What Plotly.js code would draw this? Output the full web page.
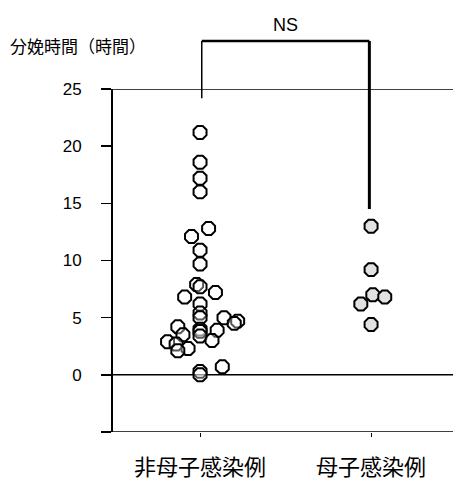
<!DOCTYPE html>
<html>
<head>
<meta charset="utf-8">
<script src="https://cdn.plot.ly/plotly-3.0.1.min.js"></script>
<style>html,body{margin:0;padding:0;background:#fff;}#chart{width:453px;height:482px;}</style>
</head>
<body>
<div id="chart"></div>
<script>
const categories = ["非母子感染例", "母子感染例"];
const yTitle = "分娩時間（時間）";
const sigLabel = "NS";

// group 1: 非母子感染例 (hours) and horizontal jitter
const group1Values = [21.2, 18.6, 17.2, 16.0, 12.8, 12.1, 10.9, 9.7, 7.9, 7.7, 7.2, 6.8, 6.2, 5.4, 5.0, 5.0, 4.7, 4.5, 4.2, 4.0, 3.8, 3.9, 3.5, 3.4, 3.0, 2.9, 2.7, 2.3, 2.1, 0.3, 0.0, 0.7];
const group1Jitter = [0, 0, 0, 0, 0.05, -0.05, 0, 0, -0.02, 0, 0.09, -0.09, 0, 0, 0, 0.14, 0.22, 0.2, -0.13, 0, 0, 0.1, -0.1, 0, 0.07, -0.19, -0.14, -0.07, -0.13, 0, 0, 0.13];

// group 2: 母子感染例
const group2Values = [13.0, 9.2, 7.0, 6.8, 6.2, 4.4];
const group2Jitter = [0, 0, 0.01, 0.08, -0.06, 0];

const yTickVals = [-5, 0, 5, 10, 15, 20, 25];
const yTickText = ["", "0", "5", "10", "15", "20", "25"];
const refLines = [-5, 0, 25];

// bracket levels (in hours)
const bracketTop = 29.2, bracketLeftEnd = 24.2, bracketRightEnd = 14.5;

const yMin = -5, yMax = 25;
const toPaper = v => (v - yMin) / (yMax - yMin);

const traces = [
  {
    type: "scatter", mode: "markers",
    x: group1Values.map((v, i) => 0 + group1Jitter[i]),
    y: group1Values,
    marker: {symbol: "octagon", size: 14, color: "rgba(255,255,255,0.35)", line: {color: "#000", width: 2}},
    cliponaxis: false, hoverinfo: "y"
  },
  {
    type: "scatter", mode: "markers",
    x: group2Values.map((v, i) => 1 + group2Jitter[i]),
    y: group2Values,
    marker: {symbol: "octagon", size: 14, color: "#e2e2e2", line: {color: "#000", width: 2}},
    cliponaxis: false, hoverinfo: "y"
  }
];

const shapes = [];
refLines.forEach(v => shapes.push({type: "line", xref: "paper", yref: "y", x0: 0, x1: 1, y0: v, y1: v, line: {color: "#000", width: 1.5}, layer: "below"}));
shapes.push({type: "line", xref: "x", yref: "paper", x0: 0.01, x1: 0.99, y0: toPaper(bracketTop), y1: toPaper(bracketTop), line: {color: "#000", width: 2.5}});
shapes.push({type: "line", xref: "x", yref: "paper", x0: 0.01, x1: 0.01, y0: toPaper(bracketTop), y1: toPaper(bracketLeftEnd), line: {color: "#000", width: 1.5}});
shapes.push({type: "line", xref: "x", yref: "paper", x0: 0.99, x1: 0.99, y0: toPaper(bracketTop), y1: toPaper(bracketRightEnd), line: {color: "#000", width: 3}});

const layout = {
  width: 453, height: 482,
  margin: {l: 113, r: 0, t: 89, b: 50},
  paper_bgcolor: "#fff", plot_bgcolor: "#fff",
  showlegend: false,
  font: {family: "Liberation Sans, Arial, sans-serif", color: "#000"},
  xaxis: {
    range: [-0.509, 1.479], tickvals: [0, 1], ticktext: categories,
    showgrid: false, zeroline: false, showline: false,
    ticks: "outside", ticklen: 4, tickwidth: 1, tickcolor: "#000",
    ticklabelstandoff: 12,
    tickfont: {family: "Noto Sans CJK JP", size: 22, color: "#000"}
  },
  yaxis: {
    range: [yMin, yMax], tickvals: yTickVals, ticktext: yTickText,
    showgrid: false, zeroline: false,
    showline: true, linecolor: "#000", linewidth: 2,
    ticks: "outside", ticklen: 10, tickwidth: 1.5, tickcolor: "#000",
    ticklabelstandoff: 16,
    tickfont: {family: "Liberation Sans, Arial, sans-serif", size: 17, color: "#000"}
  },
  shapes: shapes,
  annotations: [
    {text: yTitle, xref: "paper", yref: "paper", x: (8 - 113) / 340, y: toPaper(yMax) + (89 - 45) / 343, xanchor: "left", yanchor: "middle", showarrow: false, font: {family: "Noto Sans CJK JP", size: 17, color: "#000"}},
    {text: sigLabel, xref: "x", yref: "paper", x: 0.5, y: toPaper(bracketTop) + 16 / 343, xanchor: "center", yanchor: "middle", showarrow: false, font: {family: "Liberation Sans, Arial, sans-serif", size: 18, color: "#000"}}
  ]
};

Plotly.newPlot("chart", traces, layout, {displayModeBar: false, staticPlot: true});
</script>
</body>
</html>
